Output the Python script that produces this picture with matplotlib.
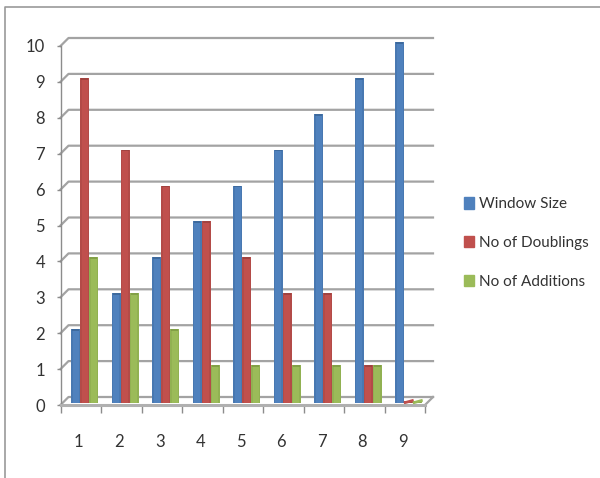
import numpy as np
import matplotlib
matplotlib.use('Agg')
import matplotlib.pyplot as plt
from matplotlib.lines import Line2D
from matplotlib.patches import Patch

categories = [1, 2, 3, 4, 5, 6, 7, 8, 9]
window_size = [2, 3, 4, 5, 6, 7, 8, 9, 10]
doublings = [9, 7, 6, 5, 4, 3, 3, 1, 0]
additions = [4, 3, 2, 1, 1, 1, 1, 1, 0]
y_ticks = list(range(11))

blue, red, green = '#4f81bd', '#c0504d', '#9bbb59'
dark = {blue: '#3a6596', red: '#98403d', green: '#7c9a43'}
grid_col = '#a3a3a3'

plt.rcParams['font.family'] = ['Lato', 'DejaVu Sans']

fig = plt.figure(figsize=(6, 4.78), dpi=100)
W, H = 600, 478
# front plane of the fake 3d box, in pixels
left, right, top, bottom = 60.5, 425, 46, 405
ax = fig.add_axes([left / W, 1 - bottom / H, (right - left) / W, (bottom - top) / H])
ax.set_xlim(0.5, 9.5)
ax.set_ylim(0, 10)
ax.patch.set_alpha(0)

# depth of the box in data units (about 8 px each way)
dx = 8 / ((right - left) / 9)
dy = 8 / ((bottom - top) / 10)

# back wall gridlines with the slanted bit to the front
for v in y_ticks:
    ax.plot([0.5, 0.5 + dx, 9.5 + dx], [v, v + dy, v + dy], color=grid_col,
            lw=1.6, clip_on=False, zorder=1)
ax.plot([9.5, 9.5 + dx], [0, dy], color=grid_col, lw=1.6, clip_on=False, zorder=1)

# bars sit half way into the box
bar_w = 9 / ((right - left) / 9)
x = np.array(categories, dtype=float) + dx / 2
for off, vals, col in [(-1, window_size, blue), (0, doublings, red), (1, additions, green)]:
    xs = x + off * bar_w
    vals = np.array(vals, dtype=float)
    base = dy / 2 - 0.05
    ax.bar(xs, vals + 0.05, bar_w, bottom=base, color=col, clip_on=False, zorder=3)
    # side shading and the dark cap
    ax.bar(xs - bar_w * 0.42, vals + 0.05, bar_w * 0.16, bottom=base, color=dark[col],
           alpha=0.3, clip_on=False, zorder=4)
    ax.bar(xs + bar_w * 0.42, vals + 0.05, bar_w * 0.16, bottom=base, color=dark[col],
           alpha=0.3, clip_on=False, zorder=4)
    ax.bar(xs, 0.05, bar_w * 0.8, bottom=vals + dy / 2 - 0.05, color=dark[col],
           alpha=0.8, clip_on=False, zorder=5)
    # zero values show as a flat sliver on the floor
    for xi, v in zip(xs, vals):
        if v == 0:
            ax.plot([xi - bar_w * 0.4, xi + bar_w * 0.4], [dy * 0.3, dy * 0.55], color=col,
                    lw=2, clip_on=False, zorder=5)

for s in ['top', 'right']:
    ax.spines[s].set_visible(False)
ax.spines['left'].set_color('#8c8c8c')
ax.spines['left'].set_linewidth(1.0)
ax.spines['bottom'].set_color('#b0b0b0')
ax.spines['bottom'].set_linewidth(2.2)
ax.spines['bottom'].set_zorder(6)

ax.set_yticks(y_ticks)
ax.tick_params(axis='y', length=3, width=1, color='#8c8c8c', pad=8,
               labelsize=12, labelcolor='#333333')
ax.set_xticks(np.arange(0.5, 10, 1))
ax.set_xticklabels([])
ax.tick_params(axis='x', which='major', length=6, width=1, color='#8c8c8c')
ax.set_xticks(np.array(categories) - 0.05, minor=True)
ax.set_xticklabels(categories, minor=True)
ax.tick_params(axis='x', which='minor', length=0, pad=21, labelsize=12,
               labelcolor='#333333')

handles = [Patch(color=blue, label='Window Size'),
           Patch(color=red, label='No of Doublings'),
           Patch(color=green, label='No of Additions')]
fig.legend(handles=handles, loc='center left', bbox_to_anchor=(464 / W, 1 - 243 / H),
           frameon=False, fontsize=11, labelcolor='#333333', handlelength=0.65,
           handleheight=0.75, handletextpad=0.35, labelspacing=1.62, borderpad=0,
           borderaxespad=0)

# outer chart border, left and top only are in the crop
fig.add_artist(Line2D([5 / W, 5 / W, 1], [0, 1 - 7 / H, 1 - 7 / H], color='#9a9a9a', lw=1.2))

fig.savefig('out.png', dpi=100)
